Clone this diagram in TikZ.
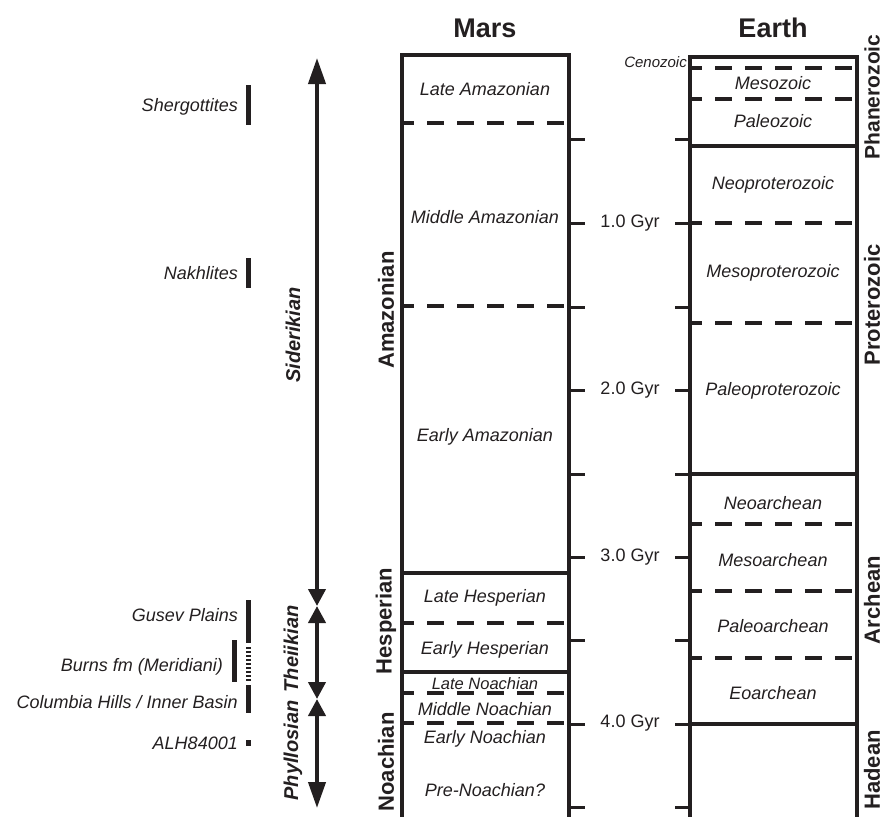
\documentclass[tikz,border=0pt]{standalone}
\usepackage{fontspec}
\setmainfont{Liberation Sans}
\usetikzlibrary{arrows.meta}
\definecolor{ink}{HTML}{231F20}
\begin{document}
\begin{tikzpicture}[x=1pt,y=-1pt,
  col/.style={draw=ink,line width=3.2pt},
  soliddiv/.style={draw=ink,line width=4.6pt},
  dashdiv/.style={draw=ink,line width=3.2pt,dash pattern=on 17pt off 13pt,dash phase=5pt},
  tickmark/.style={draw=ink,line width=3pt},
  era/.style={font=\fontsize{18}{20}\selectfont\itshape,text=ink,inner sep=0pt},
  eon/.style={font=\fontsize{22}{24}\selectfont\bfseries,text=ink,rotate=90,inner sep=0pt},
  titletext/.style={font=\fontsize{27}{30}\selectfont\bfseries,text=ink,inner sep=0pt},
  gyr/.style={font=\fontsize{18}{20}\selectfont,text=ink,inner sep=0pt},
  site/.style={font=\fontsize{18}{20}\selectfont\itshape,text=ink,inner sep=0pt,anchor=east},
  sitebar/.style={draw=ink,line width=5pt},
  phasetext/.style={font=\fontsize{20}{22}\selectfont\bfseries\itshape,text=ink,rotate=90,inner sep=0pt},
  phasearrow/.style={draw=ink,line width=4pt},
]
\useasboundingbox (0,0) rectangle (884,817);

% titles
\node[titletext] (mars) at (485,28) {Mars};
\node[titletext] (earth) at (773,28) {Earth};

% ---------------- Mars column ----------------
\draw[col] (402,817) -- (402,55) -- (569,55) -- (569,817);
\draw[dashdiv] (402,123) -- (569,123);
\draw[dashdiv] (402,306) -- (569,306);
\draw[soliddiv] (402,573) -- (569,573);
\draw[dashdiv] (402,623) -- (569,623);
\draw[soliddiv] (402,672) -- (569,672);
\draw[dashdiv] (402,693) -- (569,693);
\draw[dashdiv] (402,723) -- (569,723);

\node[era] (lam) at (485,89) {Late Amazonian};
\node[era] (mam) at (485,217) {Middle Amazonian};
\node[era] (eam) at (485,437) {Early Amazonian};
\node[era] (lhe) at (485,598) {Late Hesperian};
\node[era] (ehe) at (485,650) {Early Hesperian};
\node[era,font=\fontsize{16.5}{18}\selectfont\itshape] (lno) at (485,684) {Late Noachian};
\node[era] (mno) at (485,709) {Middle Noachian};
\node[era] (eno) at (485,739) {Early Noachian};
\node[era] (pno) at (485,790) {Pre-Noachian?};

\node[eon] (amaz) at (386,310) {Amazonian};
\node[eon] (hesp) at (386,621) {Hesperian};
\node[eon] (noach) at (386,762) {Noachian};

% ---------------- time scale ----------------
\foreach \yy in {139,223,307,390,474,557,640,724,807}{
  \draw[tickmark] (569,\yy) -- (585,\yy);
  \draw[tickmark] (675,\yy) -- (690,\yy);
}
\node[gyr] (g1) at (630,223) {1.0 Gyr};
\node[gyr] (g2) at (630,390) {2.0 Gyr};
\node[gyr] (g3) at (630,557) {3.0 Gyr};
\node[gyr] (g4) at (630,723) {4.0 Gyr};

% ---------------- Earth column ----------------
\draw[col] (690,817) -- (690,57) -- (857,57) -- (857,817);
\draw[dashdiv] (690,68) -- (857,68);
\draw[dashdiv] (690,99) -- (857,99);
\draw[soliddiv] (690,146) -- (857,146);
\draw[dashdiv] (690,223) -- (857,223);
\draw[dashdiv] (690,323) -- (857,323);
\draw[soliddiv] (690,474) -- (857,474);
\draw[dashdiv] (690,524) -- (857,524);
\draw[dashdiv] (690,591) -- (857,591);
\draw[dashdiv] (690,658) -- (857,658);
\draw[soliddiv] (690,724) -- (857,724);

\node[era,font=\fontsize{15}{17}\selectfont\itshape,anchor=east] (ceno) at (687,62) {Cenozoic};
\node[era] (meso) at (773,83) {Mesozoic};
\node[era] (paleoz) at (773,121) {Paleozoic};
\node[era] (neop) at (773,185) {Neoproterozoic};
\node[era] (mesop) at (773,273) {Mesoproterozoic};
\node[era] (paleop) at (773,391) {Paleoproterozoic};
\node[era] (neoa) at (773,503) {Neoarchean};
\node[era] (mesoa) at (773,560) {Mesoarchean};
\node[era] (paleoa) at (773,626) {Paleoarchean};
\node[era] (eoa) at (773,693) {Eoarchean};

\node[eon,font=\fontsize{21}{24}\selectfont\bfseries] (phan) at (872,97) {Phanerozoic};
\node[eon] (prot) at (872,305) {Proterozoic};
\node[eon] (arch) at (872,600) {Archean};
\node[eon] (hade) at (872,770) {Hadean};

% ---------------- mineralogical eras ----------------
\coordinate (sidTop) at (317,58);
\coordinate (sidBot) at (317,606);
\coordinate (theBot) at (317,699);
\coordinate (phyBot) at (317,808);
\draw[phasearrow,{Triangle[length=26pt,width=17pt]}-{Triangle[length=17pt,width=17pt]}] (sidTop) -- (sidBot);
\draw[phasearrow,{Triangle[length=17pt,width=17pt]}-{Triangle[length=17pt,width=17pt]}] (sidBot) -- (theBot);
\draw[phasearrow,{Triangle[length=17pt,width=17pt]}-{Triangle[length=26pt,width=17pt]}] (theBot) -- (phyBot);
\node[phasetext] (sid) at (293,335) {Siderikian};
\node[phasetext] (phy) at (293,703) {Phyllosian\hspace{8pt}Theiikian};

% ---------------- samples / sites ----------------
\node[site] (sher) at (238,107) {Shergottites};
\draw[sitebar] (248,85) -- (248,125);
\node[site] (nakh) at (238,273) {Nakhlites};
\draw[sitebar] (248,258) -- (248,288);
\node[site] (gusev) at (238,615) {Gusev Plains};
\draw[sitebar] (248,600) -- (248,643);
\draw[sitebar,dash pattern=on 2pt off 2pt] (248,647) -- (248,682);
\node[site] (burns) at (223,667) {Burns fm (Meridiani)};
\draw[sitebar] (234,640) -- (234,682);
\node[site] (colh) at (238,702) {Columbia Hills / Inner Basin};
\draw[sitebar] (248,685) -- (248,713);
\node[site] (alh) at (238,743) {ALH84001};
\draw[sitebar] (248,740) -- (248,746);
\end{tikzpicture}
\end{document}
